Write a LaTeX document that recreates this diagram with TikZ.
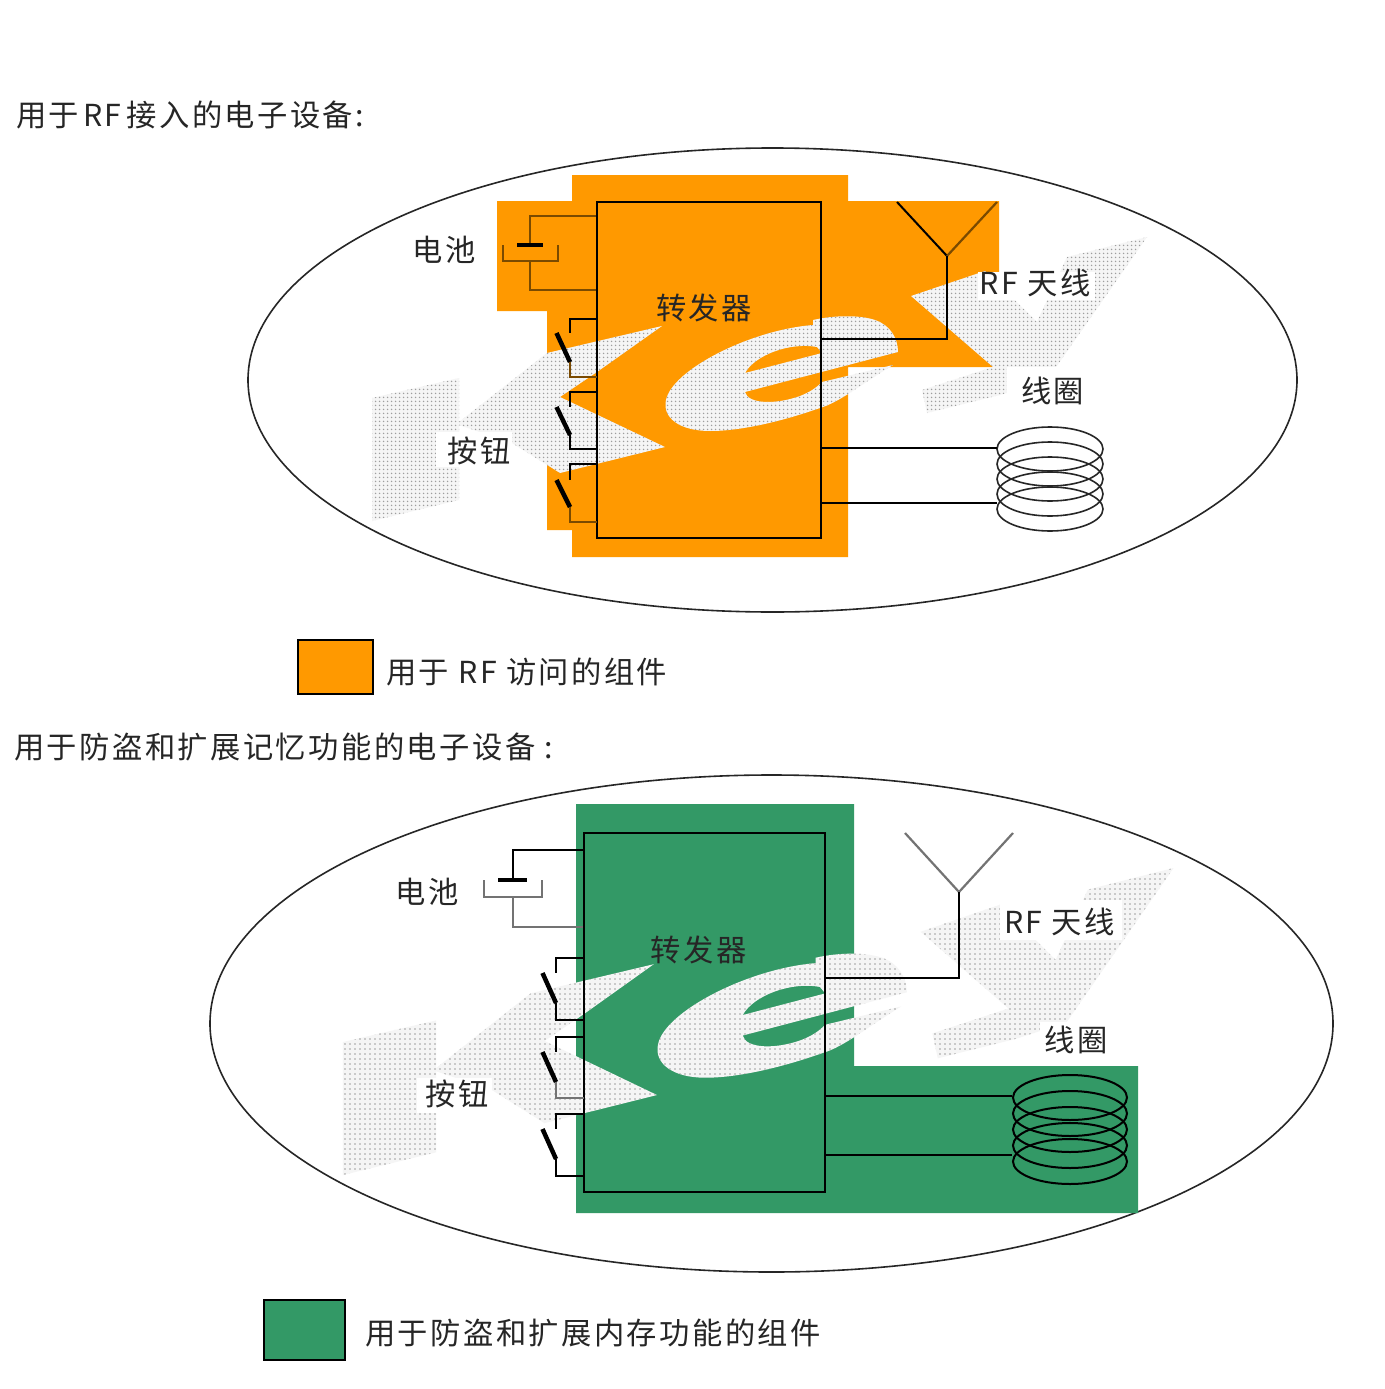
\documentclass[tikz,border=0pt]{standalone}
\usepackage{fontspec}
\usetikzlibrary{patterns.meta}
\newfontfamily\cjk[LetterSpace=8]{Noto Sans CJK SC}
\definecolor{rfor}{HTML}{FF9900}
\definecolor{thgr}{HTML}{339966}
\definecolor{brn}{HTML}{7A4A00}
\tikzset{
  lbl/.style={font=\cjk\fontsize{30.3}{36}\selectfont,text=black!85,inner sep=0pt},
  wire/.style={draw=black,line width=2pt},
  brwire/.style={draw=brn,line width=2.2pt},
  gywire/.style={draw=black!55,line width=2.2pt},
  plate/.style={draw=black,line width=4.5pt},
  slash/.style={draw=black,line width=4.5pt},
  chip/.style={draw=black,line width=2.3pt,inner sep=0pt},
  turn/.style={draw=black!85,line width=1.6pt},
  body/.style={draw=black!85,line width=1.6pt},
  swatch/.style={draw=black,line width=2pt,inner sep=0pt},
  wm/.style={even odd rule,preaction={fill=black!4,even odd rule},pattern={Dots[radius=0.95pt,distance=#1]},pattern color=black!38},
}
% push button: prefix, x of chip side, x of wire, four y values, style of the lower wire
\newcommand{\pushbtn}[8]{%
  \coordinate (#1a) at (#2,#4);
  \coordinate (#1b) at (#3,#4);
  \coordinate (#1c) at (#3,#5);
  \coordinate (#1d) at (#3-13.5,#5);
  \coordinate (#1e) at (#3,#6);
  \coordinate (#1f) at (#3,#7);
  \coordinate (#1g) at (#2,#7);
  \draw[wire] (#1a) -- (#1b) -- (#1c);
  \draw[slash] (#1d) -- (#1e);
  \draw[#8] (#1e) -- (#1f) -- (#1g);
}
% the watermark
\newcommand{\wmkey}[1]{%
  \fill[wm=#1] (372,398) -- (459,378) -- (459,422) -- (547,353) -- (662,326) -- (597,372) -- (560,397) -- (665,447) -- (560,473) -- (512,443) -- (459,425) -- (459,500) -- (372,521) -- cycle;
  \fill[wm=#1] (898,352) -- (745,392) .. controls (748,404) and (775,405) .. (800,396) .. controls (810,392) and (816,388) .. (822,382) -- (893,365) .. controls (860,385) and (840,402) .. (820,408) .. controls (780,422) and (740,431) .. (710,431) .. controls (680,431) and (662,418) .. (666,400) .. controls (672,370) and (750,330) .. (813,325) -- (813,320) .. controls (835,315) and (860,315) .. (875,320) .. controls (890,325) and (898,338) .. cycle
    (745,373) .. controls (755,355) and (790,342) .. (817,347) -- (822,353) -- cycle;
  \fill[wm=#1] (911,296) -- (985,271) -- (1037,322) -- (1067,257) -- (1147,237) -- (1047,380) -- (1000,395) -- (927,413) -- (922,390) -- (993,367) -- cycle;
}
\begin{document}
\begin{tikzpicture}[x=1pt,y=-1pt]
\useasboundingbox (0,0) rectangle (1384,1389);
\fill[white] (0,0) rectangle (1384,1389);

% ---------- upper device ----------
\node[lbl,anchor=west] (t1) at (16,115) {用于\kern4pt RF\kern5pt 接入的电子设备:};
\draw[body] (772.5,380) ellipse [x radius=524.5,y radius=232];
\fill[rfor] (572,175) -- (848,175) -- (848,201) -- (999,201) -- (999,367) -- (848,367) -- (848,557) -- (572,557) -- (572,530) -- (547,530) -- (547,311) -- (497,311) -- (497,201) -- (572,201) -- cycle;
\wmkey{4pt}
\fill[white] (436,432) rectangle (512,467);
\fill[white] (978,271.5) rectangle (1095,300);
\fill[white] (1007,367) rectangle (1086,410);

\node[chip,minimum width=224pt,minimum height=336pt] (ch1) at (709,370) {};
\coordinate (b1t) at (ch1.west |- 0,216);
\coordinate (b1u) at (530,216);
\coordinate (b1v) at (530,245);
\coordinate (b1w) at (530,261);
\coordinate (b1x) at (530,290);
\coordinate (b1y) at (ch1.west |- 0,290);
\coordinate (c1a) at (503,245); \coordinate (c1b) at (503,261);
\coordinate (c1c) at (558,261); \coordinate (c1d) at (558,245);
\coordinate (p1a) at (517,245); \coordinate (p1b) at (543,245);
\draw[brwire] (b1t) -- (b1u) -- (b1v);
\draw[brwire] (b1w) -- (b1x) -- (b1y);
\draw[brwire] (c1a) -- (c1b) -- (c1c) -- (c1d);
\draw[plate] (p1a) -- (p1b);
\pushbtn{a}{597}{570}{319}{333}{362}{377}{brwire}
\pushbtn{b}{597}{570}{392}{407}{435}{449}{wire}
\pushbtn{d}{597}{570}{464}{480}{507}{522}{brwire}

\coordinate (an1l) at (897,202); \coordinate (an1r) at (997,202);
\coordinate (an1f) at (947,256); \coordinate (an1k) at (947,339);
\coordinate (an1s) at (ch1.east |- 0,339);
\draw[wire] (an1l) -- (an1f);
\draw[brwire] (an1r) -- (an1f);
\draw[wire] (an1f) -- (an1k) -- (an1s);
\foreach \k in {0,...,4}{\draw[turn] (1050,449+15*\k) ellipse [x radius=53,y radius=22];}
\coordinate (w1a) at (ch1.east |- 0,448); \coordinate (w1b) at (997,448);
\coordinate (w1c) at (ch1.east |- 0,503); \coordinate (w1d) at (997,503);
\draw[wire] (w1a) -- (w1b);
\draw[wire] (w1c) -- (w1d);

\node[lbl] (l1a) at (444.5,250) {电池};
\node[lbl] (l1b) at (704,308) {转发器};
\node[lbl] (l1c) at (479,451) {按钮};
\node[lbl] (l1d) at (1035,283) {RF 天线};
\node[lbl] (l1e) at (1052.5,391) {线圈};

\node[swatch,fill=rfor,minimum width=75pt,minimum height=54pt] (k1) at (335.5,667) {};
\node[lbl,anchor=west] (k1t) at (386,672) {用于 RF 访问的组件};

% ---------- lower device ----------
\node[lbl,anchor=west] (t2) at (14,747) {用于防盗和扩展记忆功能的电子设备 :};
\draw[body] (771.5,1023.5) ellipse [x radius=561.5,y radius=248.5];
\fill[thgr] (576,804) -- (854,804) -- (854,1066) -- (1138,1066) -- (1138,1213) -- (576,1213) -- cycle;
\begin{scope}[shift={(-55.7,611.8)},xscale=1.0717,yscale=1.081]
\wmkey{5pt}
\end{scope}
\fill[white] (417,1078) rectangle (492,1113);
\fill[white] (1000,900) rectangle (1122,940);
\fill[white] (1040,1022) rectangle (1112,1058);

\node[chip,minimum width=241pt,minimum height=359pt] (ch2) at (704.5,1012.5) {};
\coordinate (b2t) at (ch2.west |- 0,850);
\coordinate (b2u) at (513,850);
\coordinate (b2v) at (513,880);
\coordinate (b2w) at (513,897);
\coordinate (b2x) at (513,927);
\coordinate (b2y) at (ch2.west |- 0,927);
\coordinate (c2a) at (484,880); \coordinate (c2b) at (484,897);
\coordinate (c2c) at (542,897); \coordinate (c2d) at (542,880);
\coordinate (p2a) at (498,880); \coordinate (p2b) at (527,880);
\draw[wire] (b2t) -- (b2u) -- (b2v);
\draw[gywire] (b2w) -- (b2x) -- (b2y);
\draw[gywire] (c2a) -- (c2b) -- (c2c) -- (c2d);
\draw[plate] (p2a) -- (p2b);
\pushbtn{e}{584}{556}{958}{973}{1003}{1020}{wire}
\pushbtn{f}{584}{556}{1037}{1052}{1082}{1098}{gywire}
\pushbtn{g}{584}{556}{1114}{1129}{1159}{1176}{wire}

\coordinate (an2l) at (905,833); \coordinate (an2r) at (1013,833);
\coordinate (an2f) at (959,892); \coordinate (an2k) at (959,978);
\coordinate (an2s) at (ch2.east |- 0,978);
\draw[gywire] (an2l) -- (an2f);
\draw[gywire] (an2r) -- (an2f);
\draw[wire] (an2f) -- (an2k) -- (an2s);
\foreach \k in {0,...,4}{\draw[draw=black,line width=2pt] (1070,1097.5+16*\k) ellipse [x radius=57,y radius=22.5];}
\coordinate (w2a) at (ch2.east |- 0,1096); \coordinate (w2b) at (1012,1096);
\coordinate (w2c) at (ch2.east |- 0,1155); \coordinate (w2d) at (1012,1155);
\draw[wire] (w2a) -- (w2b);
\draw[wire] (w2c) -- (w2d);

\node[lbl] (l2a) at (427,892) {电池};
\node[lbl] (l2b) at (698.5,950) {转发器};
\node[lbl] (l2c) at (457.5,1094) {按钮};
\node[lbl] (l2d) at (1059.5,922) {RF 天线};
\node[lbl] (l2e) at (1076,1040) {线圈};

\node[swatch,fill=thgr,minimum width=81pt,minimum height=60pt] (k2) at (304.5,1330) {};
\node[lbl,anchor=west] (k2t) at (365,1333) {用于防盗和扩展内存功能的组件};
\end{tikzpicture}
\end{document}
